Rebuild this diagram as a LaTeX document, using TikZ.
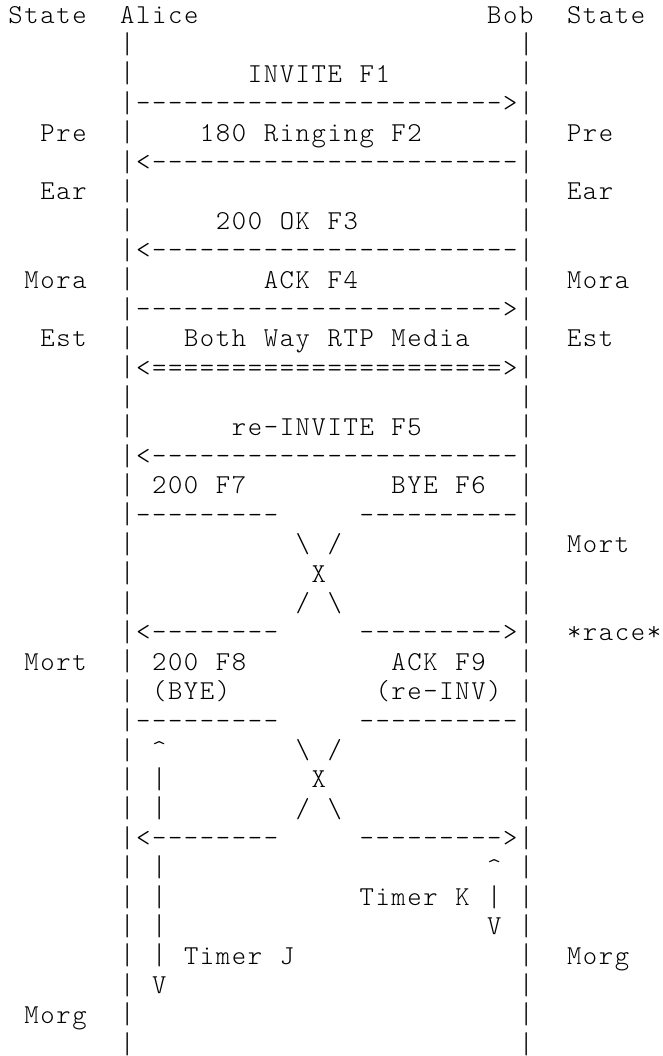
\documentclass[tikz,border=0pt]{standalone}
\usepackage{fontspec}
\newfontfamily\asciifont{lmmonolt10-regular.otf}
\newcommand\cellbox[1]{\makebox[11.97pt]{#1}}
\newcommand\rep[2]{\foreach \i in {1,...,#1}{\cellbox{#2}}}
\newcommand\lifebar{\cellbox{\raisebox{-0.5pt}{\scalebox{1}[1.1]{|}}}}
\ExplSyntaxOn
\cs_new:Npn \asciirun #1 { \tl_map_inline:nn {#1} { \cellbox{##1} } }
\ExplSyntaxOff
\begin{document}
\begin{tikzpicture}[x=11.97pt, y=-22.05pt,
ascii/.style={font=\asciifont\fontsize{20.5pt}{22pt}\selectfont,
 inner sep=0pt, outer sep=0pt, anchor=base west}
]
\useasboundingbox (0,0) rectangle (41.54,35.92);
\begin{scope}[shift={(0.48,-0.2)}]
% header
\node[ascii] (state-a) at (0,1) {\asciirun{State}};
\node[ascii] (alice) at (7,1) {\asciirun{Alice}};
\node[ascii] (bob) at (30,1) {\asciirun{Bob}};
\node[ascii] (state-b) at (35,1) {\asciirun{State}};

% lifelines
\foreach \r in {2,...,36}{
 \node[ascii] (alice-\r) at (7,\r) {\lifebar};
 \node[ascii] (bob-\r) at (32,\r) {\lifebar};
}

% states
\node[ascii] (pre-a) at (2,5) {\asciirun{Pre}};
\node[ascii] (pre-b) at (35,5) {\asciirun{Pre}};
\node[ascii] (ear-a) at (2,7) {\asciirun{Ear}};
\node[ascii] (ear-b) at (35,7) {\asciirun{Ear}};
\node[ascii] (mora-a) at (1,10) {\asciirun{Mora}};
\node[ascii] (mora-b) at (35,10) {\asciirun{Mora}};
\node[ascii] (est-a) at (2,12) {\asciirun{Est}};
\node[ascii] (est-b) at (35,12) {\asciirun{Est}};
\node[ascii] (mort-b) at (35,19) {\asciirun{Mort}};
\node[ascii] (race) at (35,22) {\asciirun{*race*}};
\node[ascii] (mort-a) at (1,23) {\asciirun{Mort}};
\node[ascii] (morg-b) at (35,33) {\asciirun{Morg}};
\node[ascii] (morg-a) at (1,35) {\asciirun{Morg}};

% messages
\node[ascii] (f1) at (15,3) {\asciirun{INVITE~F1}};
\node[ascii] (f1-line) at (8,4) {\rep{23}{-}\cellbox{>}};
\node[ascii] (f2) at (12,5) {\asciirun{180~Ringing~F2}};
\node[ascii] (f2-line) at (8,6) {\cellbox{<}\rep{23}{-}};
\node[ascii] (f3) at (13,8) {\asciirun{200~OK~F3}};
\node[ascii] (f3-line) at (8,9) {\cellbox{<}\rep{23}{-}};
\node[ascii] (f4) at (16,10) {\asciirun{ACK~F4}};
\node[ascii] (f4-line) at (8,11) {\rep{23}{-}\cellbox{>}};
\node[ascii] (rtp) at (11,12) {\asciirun{Both~Way~RTP~Media}};
\node[ascii] (rtp-line) at (8,13) {\cellbox{<}\rep{22}{=}\cellbox{>}};
\node[ascii] (f5) at (14,15) {\asciirun{re-INVITE~F5}};
\node[ascii] (f5-line) at (8,16) {\cellbox{<}\rep{23}{-}};

\node[ascii] (f7) at (9,17) {\asciirun{200~F7}};
\node[ascii] (f6) at (24,17) {\asciirun{BYE~F6}};
\node[ascii] (f8) at (9,23) {\asciirun{200~F8}};
\node[ascii] (f8-note) at (9,24) {\asciirun{(BYE)}};
\node[ascii] (f9) at (24,23) {\asciirun{ACK~F9}};
\node[ascii] (f9-note) at (23,24) {\asciirun{(re-INV)}};

% crossing messages
\foreach \r/\n in {18/a,25/b}{
 \node[ascii] (out-l\n) at (8,\r) {\rep{9}{-}};
 \node[ascii] (out-r\n) at (22,\r) {\rep{10}{-}};
 \node[ascii] (cross-t\n) at (18,\r+1) {\asciirun{\textbackslash~/}};
 \node[ascii] (cross-\n) at (19,\r+2) {\cellbox{X}};
 \node[ascii] (cross-b\n) at (18,\r+3) {\asciirun{/~\textbackslash}};
 \node[ascii] (in-l\n) at (8,\r+4) {\cellbox{<}\rep{8}{-}};
 \node[ascii] (in-r\n) at (22,\r+4) {\rep{9}{-}\cellbox{>}};
}

% timers
\node[ascii] (tj-top) at (9,26) {\cellbox{\textasciicircum}};
\foreach \r in {27,28,30,31,32,33}
 \node[ascii] (tj-\r) at (9,\r) {\lifebar};
\node[ascii] (tj-bot) at (9,34) {\cellbox{V}};
\node[ascii] (timer-j) at (11,33) {\asciirun{Timer~J}};
\node[ascii] (tk-top) at (30,30) {\cellbox{\textasciicircum}};
\node[ascii] (tk-mid) at (30,31) {\lifebar};
\node[ascii] (tk-bot) at (30,32) {\cellbox{V}};
\node[ascii] (timer-k) at (22,31) {\asciirun{Timer~K}};
\end{scope}
\end{tikzpicture}
\end{document}
